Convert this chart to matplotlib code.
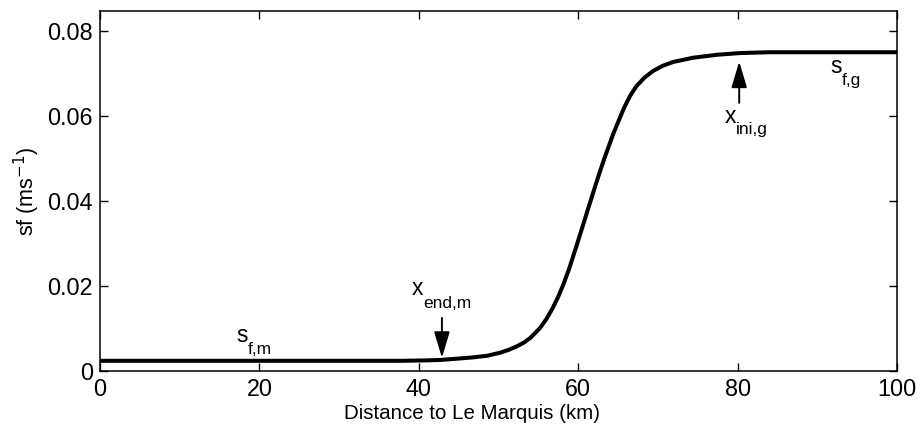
import matplotlib
matplotlib.use("Agg")
import matplotlib.pyplot as plt

plt.rcParams["font.family"] = ["Liberation Sans", "DejaVu Sans"]

# curve (km, m/s)
dist_km = [0, 10, 20, 30, 38, 41.0, 42.7, 44.8, 46.8, 48.6, 50.2, 51.3, 52.3, 53.2,
           54.0, 55.2, 56.0, 56.8, 57.5, 58.1, 58.8, 59.4, 60.0, 60.6, 61.3, 61.9,
           62.6, 63.3, 64.4, 65.7, 66.5, 67.3, 68.3, 69.4, 70.6, 71.9, 74.4, 77.4,
           80.3, 84, 90, 100]
sf = [0.0024, 0.0024, 0.0024, 0.0024, 0.0024, 0.0025, 0.0026, 0.0029, 0.0032, 0.0036,
      0.0043, 0.0050, 0.0058, 0.0067, 0.0078, 0.0101, 0.0122, 0.0148, 0.0175, 0.0202,
      0.0237, 0.0272, 0.0307, 0.0343, 0.0385, 0.0421, 0.0462, 0.0501, 0.0558, 0.0617,
      0.0647, 0.0670, 0.0690, 0.0706, 0.0718, 0.0727, 0.0737, 0.0744, 0.0748, 0.0750,
      0.0750, 0.0750]

x_end_m = 42.9
x_ini_g = 80.2

fig = plt.figure(figsize=(9.17, 4.34), dpi=100)
ax = fig.add_axes([100 / 917, 1 - 371 / 434, 797 / 917, 360 / 434])
ax.plot(dist_km, sf, color="black", lw=2.9, solid_joinstyle="round")

ax.set_xlim(0, 100)
ax.set_ylim(0, 0.0847)
ax.set_xticks([0, 20, 40, 60, 80, 100])
ax.set_yticks([0, 0.02, 0.04, 0.06, 0.08])
ax.set_yticklabels(["0", "0.02", "0.04", "0.06", "0.08"])
ax.tick_params(direction="in", top=True, right=True, length=6, width=1,
               labelsize=16.8, pad=5)
for s in ax.spines.values():
    s.set_linewidth(1.1)
ax.set_xlabel("Distance to Le Marquis (km)", fontsize=14.8)
ax.xaxis.set_label_coords(0.467, -0.092)
ax.set_ylabel("sf (ms$^{-1}$)", fontsize=15.5, labelpad=4)

arrow = dict(arrowstyle="-|>,head_width=0.24,head_length=0.8", mutation_scale=20,
             color="black", lw=1.4, shrinkA=0, shrinkB=0)
ax.annotate("", xy=(x_end_m, 0.0031), xytext=(x_end_m, 0.0125), arrowprops=arrow)
ax.annotate("", xy=(x_ini_g, 0.0728), xytext=(x_ini_g, 0.0631), arrowprops=arrow)


def label(x, y, main, sub, dx=8.0, dy=-9.0):
    ax.text(x, y, main, fontsize=16.5, ha="left", va="baseline")
    ax.annotate(sub, xy=(x, y), xytext=(dx, dy), textcoords="offset points",
                fontsize=12.5, ha="left", va="baseline")


label(39.15, 0.0179, "x", "end,m", dy=-9.4)
label(78.4, 0.0584, "x", "ini,g", dy=-8.0)
label(91.6, 0.0701, "s", "f,g", dx=8.5, dy=-8.6)
label(17.1, 0.0068, "s", "f,m", dx=8.0, dy=-8.6)

fig.savefig("out.png", dpi=100)
